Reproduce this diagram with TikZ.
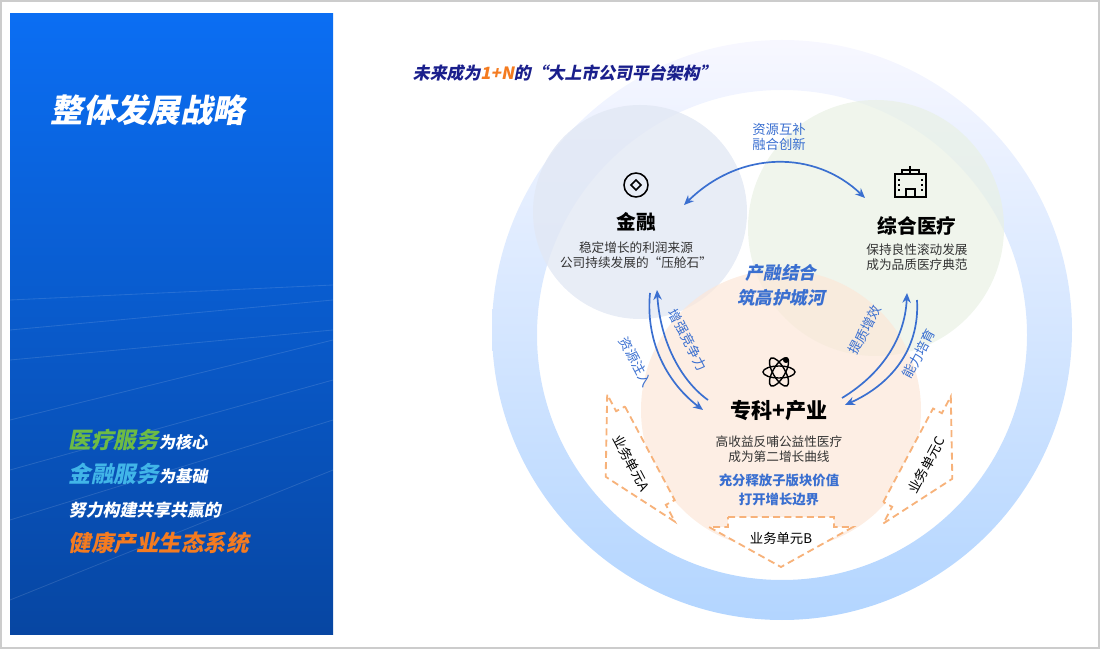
\documentclass[tikz,border=0pt]{standalone}
\usepackage{fontspec}
\setmainfont{Noto Sans CJK SC}
\newfontfamily\slnt{Noto Sans CJK SC}[FakeSlant=0.2,BoldFeatures={FakeSlant=0.2}]
\usetikzlibrary{arrows.meta}
\definecolor{panelTop}{HTML}{0B6EF3}
\definecolor{panelBot}{HTML}{0746A2}
\definecolor{navy}{HTML}{1A1F8C}
\definecolor{arrowBlue}{HTML}{3A6FD0}
\definecolor{unitOrange}{HTML}{F7B27A}
\definecolor{medGreen}{HTML}{6DBB45}
\definecolor{finCyan}{HTML}{41B5E8}
\definecolor{ecoOrange}{HTML}{F47B20}
\definecolor{finFill}{HTML}{E2E8F4}
\definecolor{medFill}{HTML}{E9F1E4}
\definecolor{specFill}{HTML}{FCE7D8}
\tikzset{
  flow/.style={-{Stealth[length=7pt,width=6pt]},arrowBlue,line width=1.2pt},
  tag/.style={text=arrowBlue,font=\fontsize{9.5}{11}\selectfont},
  head/.style={font=\fontsize{14}{16}\selectfont\bfseries},
  desc/.style={font=\fontsize{9}{11}\selectfont,align=center,text=black!80},
  unit/.style={draw=unitOrange,dashed,dash pattern=on 5pt off 3pt,line width=1.3pt}
}
\begin{document}
\begin{tikzpicture}[x=0.025cm,y=-0.025cm]
\useasboundingbox (0,0) rectangle (1100,649);
\draw[black!20,line width=1.5pt] (1,1) rectangle (1099,648);
% left panel
\shade[top color=panelTop,bottom color=panelBot] (10,14) rectangle (333,634);
\foreach \ya/\yb in {300/285,330/300,360/330,420/340,470/380,520/420,600/470}
  \draw[white,opacity=0.12,line width=0.6pt] (10,\ya) -- (333,\yb);
\node[anchor=west,text=white,font=\fontsize{23}{26}\selectfont\bfseries\slnt] (title) at (46,110) {整体发展战略};
\node[anchor=west,text=white,font=\fontsize{11.5}{13}\selectfont\bfseries\slnt] (line1) at (64,440)
  {\textcolor{medGreen}{\fontsize{16}{18}\selectfont 医疗服务}为核心};
\node[anchor=west,text=white,font=\fontsize{11.5}{13}\selectfont\bfseries\slnt] (line2) at (64,474)
  {\textcolor{finCyan}{\fontsize{16}{18}\selectfont 金融服务}为基础};
\node[anchor=west,text=white,font=\fontsize{12}{13}\selectfont\bfseries\slnt] (line3) at (64,510) {努力构建共享共赢的};
\node[anchor=west,text=ecoOrange,font=\fontsize{16}{18}\selectfont\bfseries\slnt] (line4) at (64,543) {健康产业生态系统};
% ring
\shade[even odd rule,shading angle=35,top color=blue!3!white,bottom color=blue!55!cyan!30!white]
  (782,330) circle (290) (782,335) circle (245);
% right title
\node[anchor=west,text=navy,font=\fontsize{12}{14}\selectfont\bfseries\slnt] (arch) at (408,73)
  {未来成为\textcolor{ecoOrange}{1+N}的“大上市公司平台架构”};
% circles
\fill[finFill,opacity=0.8] (640,212) circle (107);
\fill[medFill,opacity=0.7] (876,228) circle (128);
\fill[specFill,opacity=0.7] (781,410) circle (140);
% icons
\draw[line width=1.1pt] (636,185) circle (12);
\draw[line width=1.1pt] (636,180) -- (641,185) -- (636,190) -- (631,185) -- cycle;
\draw[line width=1pt] (895,174) rectangle (926,197) (902,174) -- (902,170) -- (919,170) -- (919,174)
  (906,197) -- (906,189) -- (915,189) -- (915,197) (910,166) -- (910,174);
\foreach \x in {899,922} \foreach \y in {179,184,189} \draw[line width=0.8pt] (\x,\y) -- (\x,\y+2);
\foreach \a in {0,60,120} \draw[line width=1pt,rotate around={\a:(779,372)}] (779,372) ellipse (16 and 6);
\fill (786,360) circle (3);
% labels
\node[head] (fin) at (636,222) {金融};
\node[desc] (findesc) at (636,255) {稳定增长的利润来源\\公司持续发展的“压舱石”};
\node[head] (med) at (917,226) {综合医疗};
\node[desc] (meddesc) at (917,257) {保持良性滚动发展\\成为品质医疗典范};
\node[text=arrowBlue,align=center,font=\fontsize{12.5}{18}\selectfont\bfseries\slnt] (moat) at (781,285) {产融结合\\筑高护城河};
\node[head,font=\fontsize{15}{17}\selectfont\bfseries] (spec) at (779,411) {专科+产业};
\node[desc] (specdesc) at (779,449) {高收益反哺公益性医疗\\成为第二增长曲线};
\node[text=arrowBlue,align=center,font=\fontsize{9.5}{13}\selectfont\bfseries] (value) at (779,490) {充分释放子版块价值\\打开增长边界};
% arrows
\coordinate (finR) at (684,205);
\coordinate (medL) at (865,198);
\draw[{Stealth[length=7pt,width=6pt]}-{Stealth[length=7pt,width=6pt]},arrowBlue,line width=1.2pt]
  (finR) .. controls (740,150) and (815,150) .. (medL);
\node[tag,align=center] (mutual) at (779,137) {资源互补\\融合创新};
\coordinate (finB1) at (650,293); \coordinate (specL1) at (703,410);
\coordinate (specL2) at (708,400); \coordinate (finB2) at (657,290);
\draw[flow] (finB1) .. controls (645,345) and (670,385) .. (specL1);
\draw[flow] (specL2) .. controls (680,380) and (660,340) .. (finB2);
\node[tag,rotate=-62] (inject) at (636,362) {资源注入};
\node[tag,rotate=-62] (compete) at (688,340) {增强竞争力};
\coordinate (medB1) at (917,300); \coordinate (specR1) at (845,405);
\coordinate (specR2) at (842,398); \coordinate (medB2) at (907,293);
\draw[flow] (medB1) .. controls (920,350) and (890,385) .. (specR1);
\draw[flow] (specR2) .. controls (880,375) and (905,340) .. (medB2);
\node[tag,rotate=62] (quality) at (865,330) {提质增效};
\node[tag,rotate=62] (ability) at (919,354) {能力培育};
% business units
\foreach \cx/\cy/\ang/\lbl in {641/458/-62/A,781/527/0/B,917/460/62/C}{
  \begin{scope}[shift={(\cx,\cy)},rotate=\ang]
    \draw[unit,fill=white] (-53,-10) -- (53,-10) -- (53,0) -- (72,0) -- (0,40) -- (-72,0) -- (-53,0) -- cycle;
    \node[font=\fontsize{9.5}{11}\selectfont,rotate=\ang] (unit\lbl) at (0,11) {业务单元\lbl};
  \end{scope}}
\end{tikzpicture}
\end{document}
